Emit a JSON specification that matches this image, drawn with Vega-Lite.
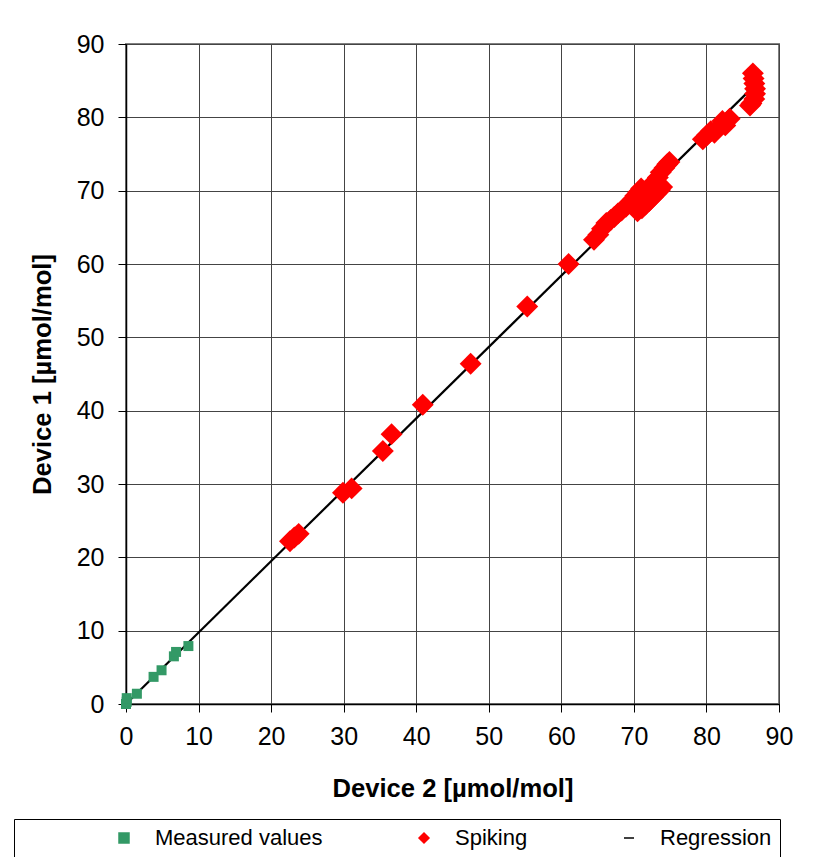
{
  "$schema": "https://vega.github.io/schema/vega-lite/v6.json",
  "width": 653,
  "height": 660,
  "autosize": {"type": "none"},
  "padding": {"left": 126, "top": 44, "right": 53, "bottom": 153},
  "background": "white",
  "data": {
    "values": [
      {"device2": 0, "device1": 0, "series": "Regression"},
      {"device2": 87, "device1": 84.7, "series": "Regression"},
      {"device2": 0.0, "device1": 0.0, "series": "Measured values"},
      {"device2": 0.1, "device1": 0.3, "series": "Measured values"},
      {"device2": 0.1, "device1": 0.8, "series": "Measured values"},
      {"device2": 1.5, "device1": 1.4, "series": "Measured values"},
      {"device2": 3.8, "device1": 3.7, "series": "Measured values"},
      {"device2": 4.9, "device1": 4.6, "series": "Measured values"},
      {"device2": 6.6, "device1": 6.5, "series": "Measured values"},
      {"device2": 6.9, "device1": 7.1, "series": "Measured values"},
      {"device2": 8.6, "device1": 7.9, "series": "Measured values"},
      {"device2": 22.6, "device1": 22.2, "series": "Spiking"},
      {"device2": 23.2, "device1": 22.7, "series": "Spiking"},
      {"device2": 23.8, "device1": 23.2, "series": "Spiking"},
      {"device2": 29.9, "device1": 28.8, "series": "Spiking"},
      {"device2": 31.1, "device1": 29.4, "series": "Spiking"},
      {"device2": 35.4, "device1": 34.5, "series": "Spiking"},
      {"device2": 36.6, "device1": 36.8, "series": "Spiking"},
      {"device2": 40.9, "device1": 40.8, "series": "Spiking"},
      {"device2": 47.5, "device1": 46.4, "series": "Spiking"},
      {"device2": 55.3, "device1": 54.2, "series": "Spiking"},
      {"device2": 61.0, "device1": 60.0, "series": "Spiking"},
      {"device2": 64.5, "device1": 63.3, "series": "Spiking"},
      {"device2": 65.1, "device1": 64.0, "series": "Spiking"},
      {"device2": 65.6, "device1": 64.8, "series": "Spiking"},
      {"device2": 66.2, "device1": 65.6, "series": "Spiking"},
      {"device2": 66.8, "device1": 66.0, "series": "Spiking"},
      {"device2": 67.3, "device1": 66.4, "series": "Spiking"},
      {"device2": 67.8, "device1": 66.9, "series": "Spiking"},
      {"device2": 68.3, "device1": 67.3, "series": "Spiking"},
      {"device2": 68.9, "device1": 67.8, "series": "Spiking"},
      {"device2": 69.4, "device1": 68.3, "series": "Spiking"},
      {"device2": 69.8, "device1": 68.8, "series": "Spiking"},
      {"device2": 70.2, "device1": 69.3, "series": "Spiking"},
      {"device2": 70.6, "device1": 69.8, "series": "Spiking"},
      {"device2": 71.0, "device1": 70.3, "series": "Spiking"},
      {"device2": 70.5, "device1": 67.2, "series": "Spiking"},
      {"device2": 71.1, "device1": 67.6, "series": "Spiking"},
      {"device2": 71.6, "device1": 68.1, "series": "Spiking"},
      {"device2": 72.1, "device1": 68.6, "series": "Spiking"},
      {"device2": 72.6, "device1": 69.1, "series": "Spiking"},
      {"device2": 73.1, "device1": 69.6, "series": "Spiking"},
      {"device2": 73.6, "device1": 70.1, "series": "Spiking"},
      {"device2": 73.9, "device1": 70.5, "series": "Spiking"},
      {"device2": 71.5, "device1": 69.0, "series": "Spiking"},
      {"device2": 72.0, "device1": 69.5, "series": "Spiking"},
      {"device2": 71.8, "device1": 70.0, "series": "Spiking"},
      {"device2": 72.3, "device1": 70.6, "series": "Spiking"},
      {"device2": 72.8, "device1": 71.2, "series": "Spiking"},
      {"device2": 73.3, "device1": 71.8, "series": "Spiking"},
      {"device2": 73.7, "device1": 72.5, "series": "Spiking"},
      {"device2": 74.2, "device1": 73.1, "series": "Spiking"},
      {"device2": 74.6, "device1": 73.6, "series": "Spiking"},
      {"device2": 74.9, "device1": 73.9, "series": "Spiking"},
      {"device2": 79.5, "device1": 77.0, "series": "Spiking"},
      {"device2": 80.1, "device1": 77.6, "series": "Spiking"},
      {"device2": 80.6, "device1": 78.1, "series": "Spiking"},
      {"device2": 81.1, "device1": 77.9, "series": "Spiking"},
      {"device2": 81.6, "device1": 78.5, "series": "Spiking"},
      {"device2": 82.2, "device1": 79.5, "series": "Spiking"},
      {"device2": 82.6, "device1": 78.9, "series": "Spiking"},
      {"device2": 83.2, "device1": 79.8, "series": "Spiking"},
      {"device2": 86.4, "device1": 86.0, "series": "Spiking"},
      {"device2": 86.5, "device1": 85.3, "series": "Spiking"},
      {"device2": 86.6, "device1": 84.6, "series": "Spiking"},
      {"device2": 86.7, "device1": 83.9, "series": "Spiking"},
      {"device2": 86.7, "device1": 83.2, "series": "Spiking"},
      {"device2": 86.6, "device1": 82.5, "series": "Spiking"},
      {"device2": 86.2, "device1": 81.9, "series": "Spiking"},
      {"device2": 86.0, "device1": 81.6, "series": "Spiking"}
    ]
  },
  "encoding": {
    "x": {
      "field": "device2", "type": "quantitative",
      "scale": {"domain": [0, 90], "nice": false, "zero": false},
      "axis": {"values": [0,10,20,30,40,50,60,70,80,90], "title": "Device 2 [µmol/mol]", "titlePadding": 27}
    },
    "y": {
      "field": "device1", "type": "quantitative",
      "scale": {"domain": [0, 90], "nice": false, "zero": false},
      "axis": {"values": [0,10,20,30,40,50,60,70,80,90], "title": "Device 1 [µmol/mol]", "titlePadding": 21}
    },
    "color": {
      "field": "series", "type": "nominal",
      "scale": {"domain": ["Measured values", "Spiking", "Regression"], "range": ["#339966", "#ff0000", "#000000"]},
      "legend": {
        "title": " ", "titleOrient": "left", "titleFontSize": 22, "titlePadding": 91,
        "orient": "none", "legendX": -112, "legendY": 775, "direction": "horizontal", "columns": 3,
        "columnPadding": 90, "padding": 8, "strokeColor": "#000000", "fillColor": "#ffffff",
        "labelFont": "Liberation Sans, Arial, sans-serif", "labelFontSize": 22, "labelColor": "#000000", "labelOffset": 20,
        "labelLimit": 400, "symbolOpacity": 1
      }
    }
  },
  "layer": [
    {
      "transform": [{"filter": "datum.series === 'Regression'"}],
      "mark": {"type": "line", "strokeWidth": 2.2}
    },
    {
      "transform": [{"filter": "datum.series === 'Measured values'"}],
      "mark": {"type": "point", "filled": true, "opacity": 1, "strokeWidth": 0, "size": 100},
      "encoding": {
        "shape": {
          "field": "series", "type": "nominal",
          "scale": {"domain": ["Measured values", "Spiking", "Regression"], "range": ["square", "diamond", "stroke"]},
          "legend": {
            "title": " ", "titleOrient": "left", "titleFontSize": 22, "titlePadding": 91,
            "orient": "none", "legendX": -112, "legendY": 775, "direction": "horizontal", "columns": 3,
            "columnPadding": 90, "padding": 8, "strokeColor": "#000000", "fillColor": "#ffffff",
            "labelFont": "Liberation Sans, Arial, sans-serif", "labelFontSize": 22, "labelColor": "#000000", "labelOffset": 20,
            "labelLimit": 400, "symbolOpacity": 1
          }
        }
      }
    },
    {
      "transform": [{"filter": "datum.series === 'Spiking'"}],
      "mark": {"type": "point", "filled": true, "opacity": 1, "strokeWidth": 0, "size": 480},
      "encoding": {
        "shape": {
          "field": "series", "type": "nominal",
          "scale": {"domain": ["Measured values", "Spiking", "Regression"], "range": ["square", "diamond", "stroke"]},
          "legend": {
            "title": " ", "titleOrient": "left", "titleFontSize": 22, "titlePadding": 91,
            "orient": "none", "legendX": -112, "legendY": 775, "direction": "horizontal", "columns": 3,
            "columnPadding": 90, "padding": 8, "strokeColor": "#000000", "fillColor": "#ffffff",
            "labelFont": "Liberation Sans, Arial, sans-serif", "labelFontSize": 22, "labelColor": "#000000", "labelOffset": 20,
            "labelLimit": 400, "symbolOpacity": 1
          }
        }
      }
    }
  ],
  "config": {
    "view": {"stroke": "#808080", "strokeWidth": 2},
    "axis": {
      "labelFont": "Liberation Sans, Arial, sans-serif", "labelFontSize": 25, "labelColor": "#000000",
      "titleFont": "Liberation Sans, Arial, sans-serif", "titleFontSize": 25.6, "titleFontWeight": "bold", "titleColor": "#000000",
      "domainColor": "#000000", "domainWidth": 1.5, "tickColor": "#000000", "tickSize": 8, "tickWidth": 1,
      "gridColor": "#444444", "gridWidth": 1, "gridOpacity": 1, "labelFlush": false, "labelOverlap": false
    },
    "axisX": {"labelPadding": 12},
    "axisY": {"labelPadding": 14}
  }
}
